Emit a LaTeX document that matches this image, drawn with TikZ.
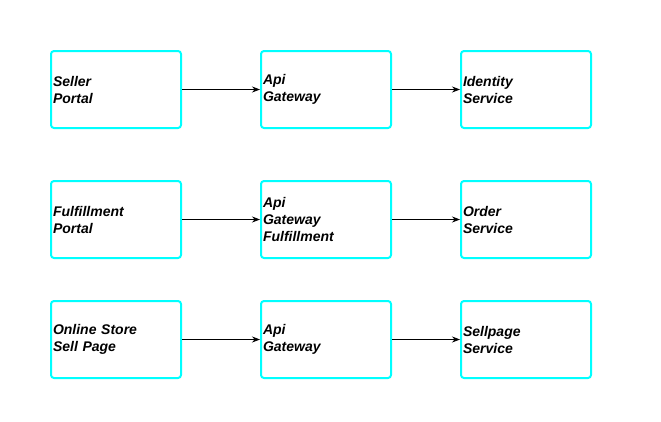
\documentclass[tikz,border=0pt]{standalone}
\usepackage{fontspec}
\setmainfont{Liberation Sans}
\usetikzlibrary{arrows.meta}
\begin{document}
\begin{tikzpicture}[x=1pt,y=-1pt,
  box/.style={draw={rgb,255:red,0;green,255;blue,255}, line width=2pt, rounded corners=3pt, fill=white,
    minimum width=130pt, minimum height=77pt, text width=126pt, inner xsep=2pt, inner ysep=0pt,
    align=left, anchor=north west, font=\fontsize{14}{17}\selectfont\bfseries\itshape},
  conn/.style={-{Stealth[length=8pt,width=6pt]}, line width=0.8pt, black}]
\useasboundingbox[fill=white] (0,0) rectangle (661,421);
\node[box] (a1) at (50,50) {Seller\\Portal};
\node[box] (b1) at (260,50) {Api\\Gateway};
\node[box] (c1) at (460,50) {Identity\\Service};
\node[box] (a2) at (50,180) {Fulfillment\\Portal};
\node[box] (b2) at (260,180) {Api\\Gateway\\Fulfillment};
\node[box] (c2) at (460,180) {Order\\Service};
\node[box] (a3) at (50,300) {Online Store\\Sell Page};
\node[box] (b3) at (260,300) {Api\\Gateway};
\node[box] (c3) at (460,300) {Sellpage\\Service};
\draw[conn] (a1) -- (b1);
\draw[conn] (b1) -- (c1);
\draw[conn] (a2) -- (b2);
\draw[conn] (b2) -- (c2);
\draw[conn] (a3) -- (b3);
\draw[conn] (b3) -- (c3);
\end{tikzpicture}
\end{document}
